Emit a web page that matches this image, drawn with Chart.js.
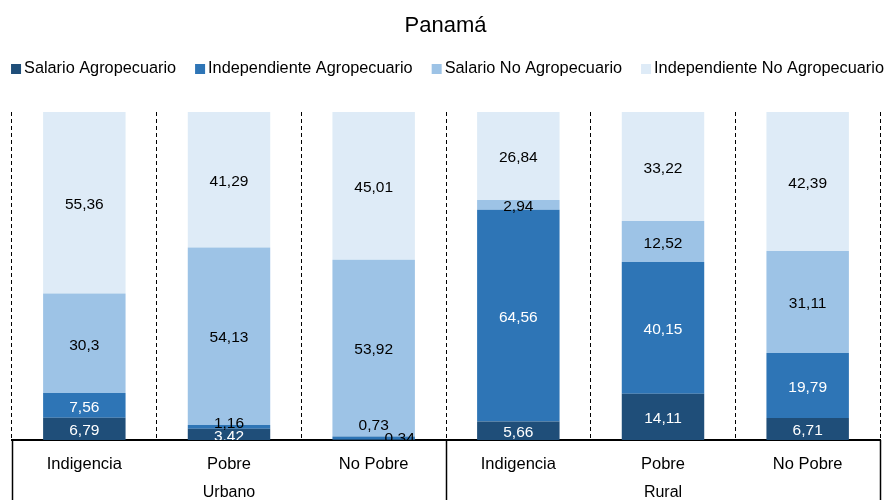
<!DOCTYPE html>
<html>
<head>
<meta charset="utf-8">
<script src="https://cdn.jsdelivr.net/npm/chart.js@4/dist/chart.umd.min.js"></script>
<style>
    body { margin: 0; background: #fff; }
    #wrap { width: 891px; height: 500px; }
</style>
</head>
<body>
<div id="wrap"><canvas id="grafico"></canvas></div>
<script>
// Datos del gráfico
const categorias = ['Indigencia', 'Pobre', 'No Pobre', 'Indigencia', 'Pobre', 'No Pobre'];
const grupos = ['Urbano', 'Rural'];
const salarioAgro = [6.79, 3.42, 0.34, 5.66, 14.11, 6.71];
const independienteAgro = [7.56, 1.16, 0.73, 64.56, 40.15, 19.79];
const salarioNoAgro = [30.3, 54.13, 53.92, 2.94, 12.52, 31.11];
const independienteNoAgro = [55.36, 41.29, 45.01, 26.84, 33.22, 42.39];

const fuente = 'Liberation Sans, Arial, sans-serif';

// Ajustes manuales de etiquetas pequeñas (dataset-indice)
const ajustesEtiquetas = {
    '1-1': { dx: 0, dy: -5, color: '#000' },
    '0-2': { dx: 26, dy: -3, color: '#000' },
    '1-2': { dx: 0, dy: -14, color: '#000' }
};

// Leyenda dibujada a mano (la de Chart.js no cabe en una línea)
const leyendaPlugin = {
    id: 'leyenda',
    afterDraw(chart) {
        const ctx = chart.ctx;
        const caja = 10, hueco = 3, separacion = 19, yCentro = 69;
        ctx.save();
        ctx.font = '16.3px ' + fuente;
        ctx.textBaseline = 'middle';
        ctx.textAlign = 'left';
        const items = chart.data.datasets.map(ds => ({
            texto: ds.label,
            color: ds.backgroundColor,
            ancho: ctx.measureText(ds.label).width
        }));
        let total = items.reduce((s, it) => s + caja + hueco + it.ancho, 0) + separacion * (items.length - 1);
        let x = (chart.width - total) / 2 + 2;
        items.forEach(it => {
            ctx.fillStyle = it.color;
            ctx.fillRect(x, yCentro - caja / 2, caja, caja);
            ctx.fillStyle = '#000';
            ctx.fillText(it.texto, x + caja + hueco, yCentro);
            x += caja + hueco + it.ancho + separacion;
        });
        ctx.restore();
    }
};

// Plugin para etiquetas de valores
const etiquetasPlugin = {
    id: 'etiquetas',
    afterDatasetsDraw(chart) {
        const ctx = chart.ctx;
        const area = chart.chartArea;
        ctx.save();
        ctx.beginPath();
        ctx.rect(area.left, area.top, area.right - area.left, area.bottom - area.top);
        ctx.clip();
        ctx.font = '15.5px ' + fuente;
        ctx.textAlign = 'center';
        ctx.textBaseline = 'middle';
        chart.data.datasets.forEach((ds, i) => {
            const meta = chart.getDatasetMeta(i);
            meta.data.forEach((bar, j) => {
                const valor = ds.data[j];
                const ajuste = ajustesEtiquetas[i + '-' + j] || { dx: 0, dy: 0, color: ds.colorTexto };
                const y = (bar.y + bar.base) / 2 + 2 + ajuste.dy;
                ctx.fillStyle = ajuste.color;
                ctx.fillText(String(valor).replace('.', ','), bar.x + ajuste.dx, y);
            });
        });
        ctx.restore();
    }
};

// Plugin para grupos del eje X
const gruposPlugin = {
    id: 'grupos',
    afterDraw(chart) {
        const ctx = chart.ctx;
        const area = chart.chartArea;
        const x = chart.scales.x;
        const paso = (area.right - area.left) / categorias.length;
        const abajo = chart.height;
        ctx.save();
        ctx.strokeStyle = '#000';
        ctx.lineWidth = 1.5;
        [0, 3, 6].forEach(k => {
            const px = Math.round(area.left + k * paso) + 0.5;
            ctx.beginPath();
            ctx.moveTo(px, area.bottom);
            ctx.lineTo(px, abajo);
            ctx.stroke();
        });
        ctx.font = '16px ' + fuente;
        ctx.fillStyle = '#000';
        ctx.textAlign = 'center';
        ctx.textBaseline = 'middle';
        grupos.forEach((g, k) => {
            ctx.fillText(g, x.getPixelForValue(k * 3 + 1), 493);
        });
        ctx.restore();
    }
};

// Eje invisible usado como margen lateral
function ejeMargen(posicion, ancho) {
    return {
        position: posicion,
        display: true,
        grid: { display: false },
        border: { display: false },
        ticks: { display: false },
        afterFit(scale) { scale.width = ancho; }
    };
}

const ejeIzq = ejeMargen('left', 12);
ejeIzq.stacked = true;
ejeIzq.min = 0;
ejeIzq.max = 100;

new Chart(document.getElementById('grafico'), {
    type: 'bar',
    data: {
        labels: categorias,
        datasets: [
            { label: 'Salario Agropecuario', data: salarioAgro, backgroundColor: '#1f4e79', colorTexto: '#fff' },
            { label: 'Independiente Agropecuario', data: independienteAgro, backgroundColor: '#2e75b6', colorTexto: '#fff' },
            { label: 'Salario No Agropecuario', data: salarioNoAgro, backgroundColor: '#9dc3e6', colorTexto: '#000' },
            { label: 'Independiente No Agropecuario', data: independienteNoAgro, backgroundColor: '#deebf7', colorTexto: '#000' }
        ]
    },
    options: {
        responsive: true,
        maintainAspectRatio: false,
        animation: false,
        layout: { padding: 0 },
        datasets: {
            bar: { categoryPercentage: 1, barPercentage: 0.57 }
        },
        plugins: {
            title: {
                display: true,
                text: 'Panamá',
                color: '#000',
                font: { family: fuente, size: 22, weight: 'normal' },
                padding: { top: 13, bottom: 72.6 }
            },
            legend: { display: false },
            tooltip: { enabled: false }
        },
        scales: {
            x: {
                stacked: true,
                grid: {
                    offset: true,
                    color: '#000',
                    lineWidth: 1,
                    drawTicks: false
                },
                border: { display: true, color: '#000', width: 2, dash: [4, 3] },
                ticks: {
                    color: '#000',
                    font: { family: fuente, size: 16.5 },
                    padding: 15
                },
                afterFit(scale) { scale.height = 60; }
            },
            y: ejeIzq,
            margenDer: ejeMargen('right', 11)
        }
    },
    plugins: [leyendaPlugin, etiquetasPlugin, gruposPlugin]
});
</script>
</body>
</html>
